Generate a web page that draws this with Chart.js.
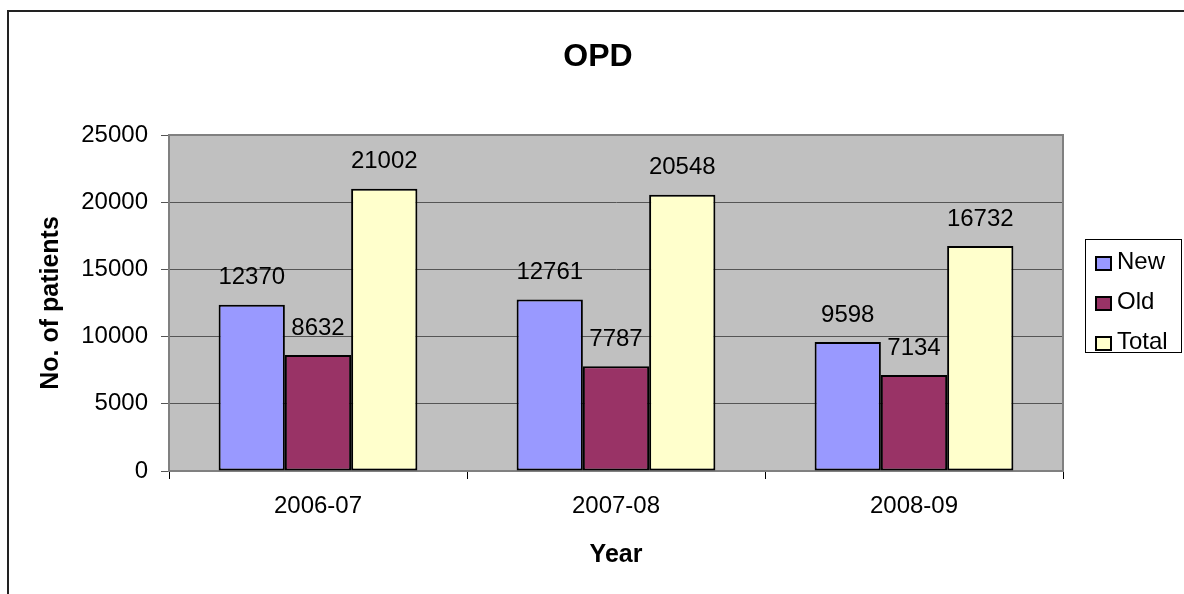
<!DOCTYPE html>
<html>
<head>
<meta charset="utf-8">
<script src="https://cdn.jsdelivr.net/npm/chart.js@4.4.0/dist/chart.umd.min.js"></script>
<style>
	html, body { margin: 0; padding: 0; background: #fff; }
	#wrap { width: 1184px; height: 594px; }
</style>
</head>
<body>
<div id="wrap"><canvas id="opdChart" width="1184" height="594"></canvas></div>
<script>
var years = ["2006-07", "2007-08", "2008-09"];
var newPatients = [12370, 12761, 9598];
var oldPatients = [8632, 7787, 7134];
var totalPatients = [21002, 20548, 16732];
var yTicks = [0, 5000, 10000, 15000, 20000, 25000];

var FONT = "'Liberation Sans', Arial, sans-serif";

var excelLook = {
	id: 'excelLook',
	beforeDraw: function(chart){
		var ctx = chart.ctx;
		var a = chart.chartArea;
		ctx.save();
		ctx.fillStyle = '#fff';
		ctx.fillRect(0, 0, chart.width, chart.height);
		ctx.fillStyle = '#C0C0C0';
		ctx.fillRect(a.left, a.top, a.right - a.left, a.bottom - a.top);
		ctx.restore();
	},
	beforeDatasetsDraw: function(chart){
		var ctx = chart.ctx;
		var a = chart.chartArea;
		ctx.save();
		ctx.strokeStyle = '#808080';
		ctx.lineWidth = 2;
		ctx.strokeRect(a.left, a.top, a.right - a.left, a.bottom - a.top);
		ctx.restore();
	},
	afterDatasetsDraw: function(chart){
		var ctx = chart.ctx;
		ctx.save();
		ctx.fillStyle = '#000';
		ctx.font = '24px ' + FONT;
		ctx.textAlign = 'center';
		ctx.textBaseline = 'middle';
		chart.data.datasets.forEach(function(ds, i){
			var meta = chart.getDatasetMeta(i);
			meta.data.forEach(function(bar, j){
				ctx.fillText(String(ds.data[j]), bar.x, bar.y - 27);
			});
		});
		ctx.restore();
	},
	afterDraw: function(chart){
		var ctx = chart.ctx;
		ctx.save();

		// chart title
		ctx.fillStyle = '#000';
		ctx.font = 'bold 32px ' + FONT;
		ctx.textAlign = 'center';
		ctx.textBaseline = 'middle';
		ctx.fillText('OPD', 598, 57);

		// legend
		ctx.strokeStyle = '#000';
		ctx.lineWidth = 1;
		ctx.strokeRect(1085.5, 239.5, 96, 113);
		ctx.font = '24px ' + FONT;
		ctx.textAlign = 'left';
		chart.data.datasets.forEach(function(ds, i){
			var y = 262 + i * 40;
			ctx.fillStyle = ds.backgroundColor;
			ctx.fillRect(1096, y - 5, 15, 13);
			ctx.lineWidth = 2;
			ctx.strokeRect(1096, y - 5, 15, 13);
			ctx.fillStyle = '#000';
			ctx.fillText(ds.label, 1117, y);
		});

		// outer border
		ctx.strokeStyle = '#222';
		ctx.lineWidth = 2;
		ctx.strokeRect(8, 11, 1200, 600);
		ctx.restore();
	}
};

new Chart(document.getElementById('opdChart'), {
	type: 'bar',
	data: {
		labels: years,
		datasets: [
			{ label: 'New', data: newPatients, backgroundColor: '#9999FF' },
			{ label: 'Old', data: oldPatients, backgroundColor: '#993366' },
			{ label: 'Total', data: totalPatients, backgroundColor: '#FFFFCC' }
		].map(function(d){
			d.borderColor = '#000';
			d.borderWidth = 2;
			d.borderSkipped = false;
			d.categoryPercentage = 0.667;
			d.barPercentage = 1.0;
			return d;
		})
	},
	options: {
		responsive: false,
		animation: false,
		devicePixelRatio: 1,
		layout: { padding: { top: 135, right: 121, left: 0, bottom: 0 } },
		plugins: {
			legend: { display: false },
			title: { display: false },
			tooltip: { enabled: false }
		},
		scales: {
			x: {
				afterFit: function(scale){ scale.height = 123; },
				grid: { offset: true, drawOnChartArea: false, drawTicks: true, tickLength: 8, color: '#000', lineWidth: 1 },
				border: { color: '#000', width: 2 },
				ticks: { color: '#000', padding: 13, font: { family: FONT, size: 24 } },
				title: { display: true, text: 'Year', color: '#000', padding: { top: 0, bottom: 24 }, font: { family: FONT, size: 25, weight: 'bold' } }
			},
			y: {
				min: 0,
				max: 25000,
				afterFit: function(scale){ scale.width = 169; },
				afterBuildTicks: function(scale){
					scale.ticks = yTicks.map(function(v){ return { value: v }; });
				},
				grid: { color: '#555', lineWidth: 1, drawTicks: true, tickLength: 8 },
				border: { color: '#808080', width: 2 },
				ticks: {
					color: '#000',
					padding: 13,
					font: { family: FONT, size: 24 },
					callback: function(v){ return String(v); }
				},
				title: { display: true, text: 'No. of patients', color: '#000', padding: { top: 36, bottom: 0 }, font: { family: FONT, size: 25, weight: 'bold' } }
			}
		}
	},
	plugins: [excelLook]
});
</script>
</body>
</html>
